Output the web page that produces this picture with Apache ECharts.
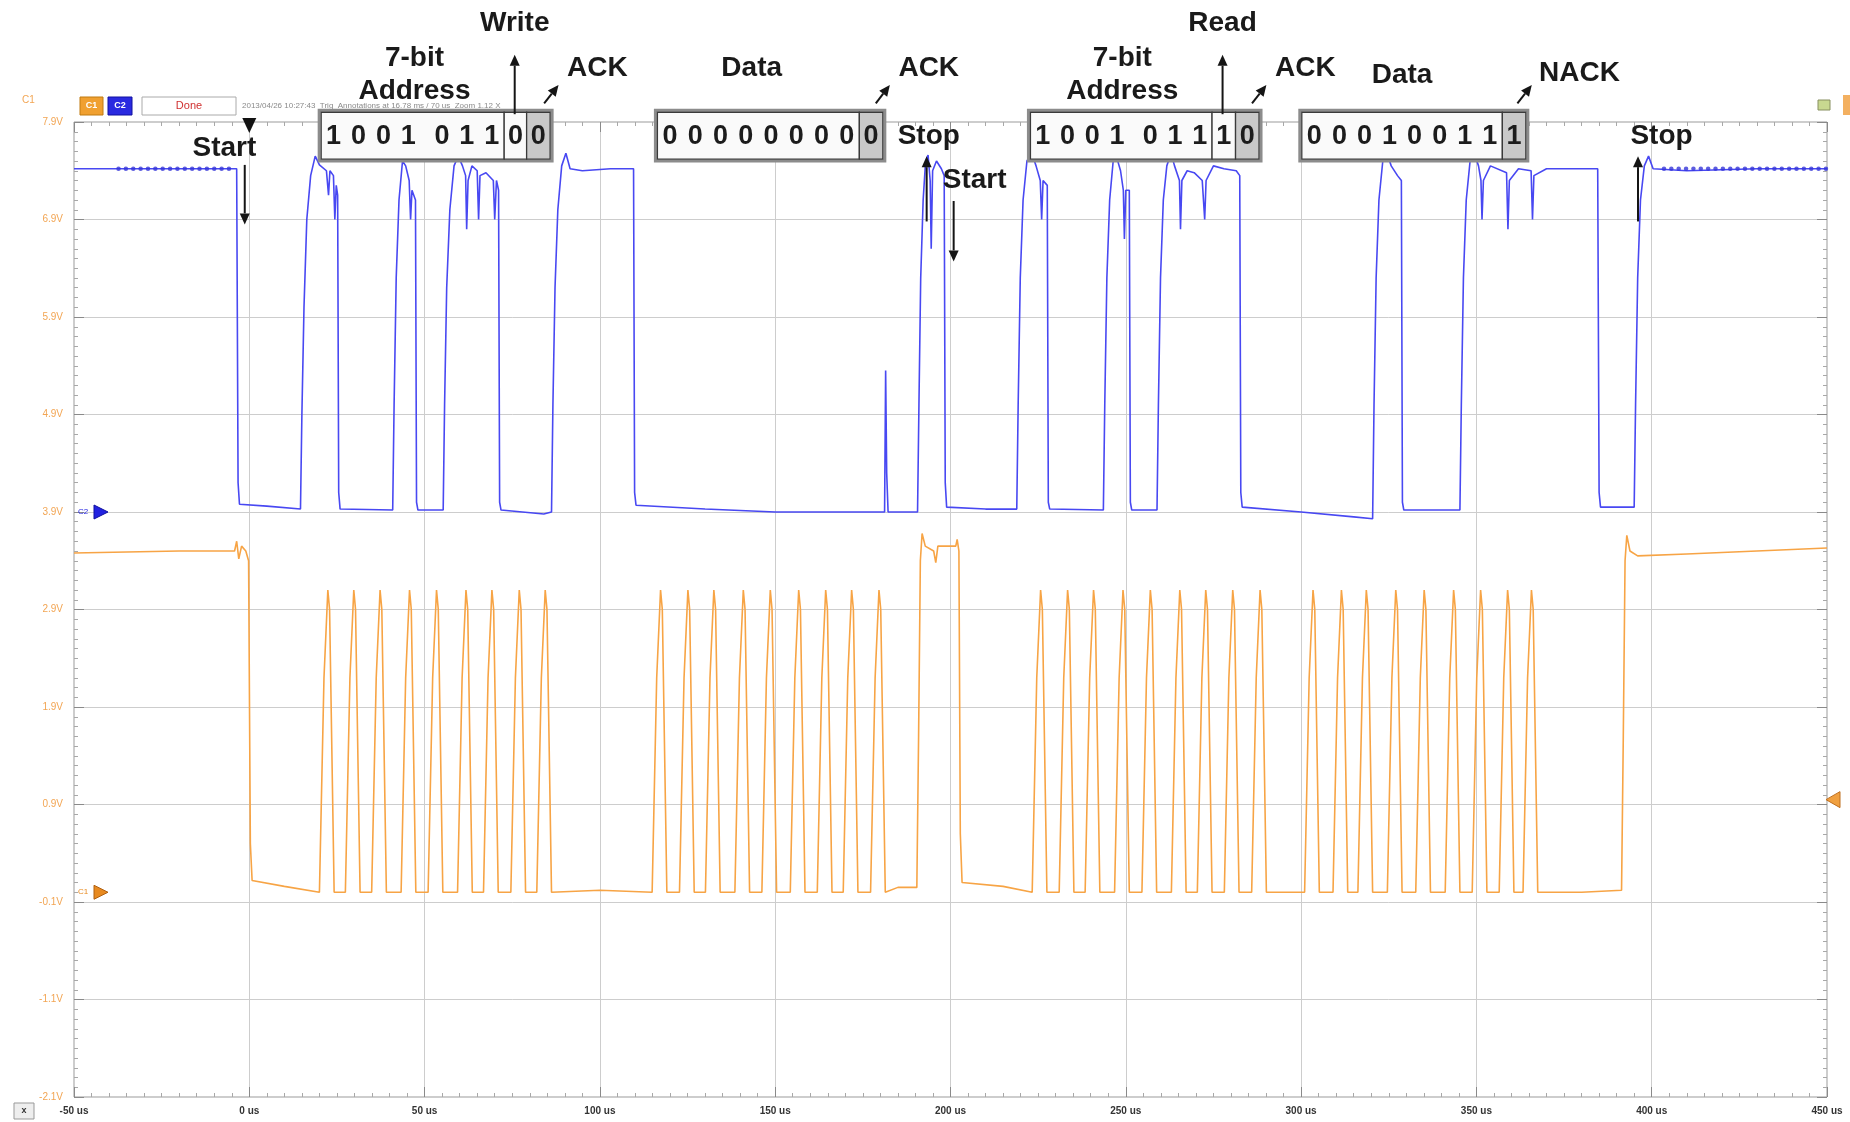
<!DOCTYPE html>
<html><head><meta charset="utf-8">
<script src="https://cdn.jsdelivr.net/npm/echarts@6/dist/echarts.min.js"></script>
<style>html,body{margin:0;padding:0;background:#fff;}#c{width:1850px;height:1122px;}</style>
</head><body><div id="c"></div>
<script>
// ---------- tick labels ----------
const xTickLabels = ['-50 us','0 us','50 us','100 us','150 us','200 us','250 us','300 us','350 us','400 us','450 us'];
const yTickLabels = ['-2.1V','-1.1V','-0.1V','0.9V','1.9V','2.9V','3.9V','4.9V','5.9V','6.9V','7.9V'];

// ---------- SDA (C2, blue) trace: [time us, volts] ----------
const sdaPoints = [
[-50,7.42],[-20,7.42],[-3.6,7.42],[-3.2,4.2],[-2.8,3.98],[5,3.96],[14.6,3.93],
[15.0,4.9],[15.6,6.0],[16.4,6.9],[17.5,7.35],[18.8,7.55],[20.0,7.46],[22.0,7.4],[22.6,7.15],[23.0,7.4],[24.0,7.35],[24.4,6.9],[24.8,7.25],[25.2,7.15],[25.5,4.1],[25.9,3.93],
[40.9,3.92],[41.3,5.0],[41.9,6.3],[42.7,7.1],[43.7,7.5],[44.6,7.45],[45.6,7.3],[46.0,6.9],[46.4,7.2],[47.4,7.1],[47.7,4.0],[48.1,3.92],
[55.3,3.92],[55.7,5.0],[56.3,6.2],[57.2,7.0],[58.4,7.45],[59.6,7.55],[60.8,7.45],[61.7,7.35],[62.0,6.8],[62.4,7.3],[63.5,7.45],[65.0,7.4],[65.4,6.9],[65.8,7.35],[67.5,7.38],[69.6,7.3],[70.0,6.9],[70.5,7.3],[71.1,7.2],[71.4,4.0],[71.8,3.92],
[84.0,3.88],[86.2,3.9],[86.6,5.0],[87.2,6.2],[88.0,7.0],[89.1,7.45],[90.3,7.58],[91.5,7.42],[95,7.4],[103,7.42],[109.6,7.42],[109.9,4.1],[110.3,3.97],
[130,3.93],[150,3.9],[170,3.9],[181.2,3.9],[181.5,5.35],[181.8,4.3],[182.2,3.9],[190.6,3.9],
[191.0,5.0],[191.5,6.3],[192.2,7.1],[192.9,7.5],[193.6,7.56],[194.2,7.3],[194.5,6.6],[194.9,7.4],[196.0,7.5],[197.4,7.42],[198.2,7.35],[198.5,4.2],[198.9,3.95],
[210,3.93],[218.9,3.93],
[219.3,5.0],[219.9,6.3],[220.7,7.1],[221.8,7.5],[223.2,7.58],[224.4,7.45],[225.6,7.3],[226.0,6.9],[226.4,7.3],[227.6,7.25],[227.9,4.0],[228.3,3.93],
[243.6,3.92],[244.0,5.0],[244.6,6.3],[245.4,7.1],[246.4,7.5],[247.3,7.55],[248.5,7.4],[249.3,7.2],[249.6,6.7],[250.0,7.2],[251.0,7.2],[251.3,4.0],[251.7,3.92],
[258.9,3.92],[259.3,5.0],[259.9,6.3],[260.7,7.1],[261.7,7.45],[262.9,7.58],[263.9,7.45],[265.3,7.3],[265.6,6.8],[266.0,7.3],[267.5,7.4],[269.5,7.38],[271.8,7.3],[272.5,6.9],[272.9,7.3],[275,7.45],[278,7.42],[281.5,7.4],[282.5,7.35],[282.8,4.1],[283.2,3.95],
[300,3.9],[315,3.85],[320.4,3.83],
[320.8,5.0],[321.4,6.3],[322.2,7.1],[323.3,7.5],[324.5,7.58],[325.7,7.45],[327.5,7.35],[328.6,7.3],[328.9,4.0],[329.3,3.92],
[345.3,3.92],[345.7,5.0],[346.3,6.3],[347.1,7.1],[348.2,7.5],[349.4,7.58],[350.6,7.45],[351.3,7.3],[351.6,6.9],[352.0,7.3],[354,7.45],[358.6,7.38],[359.0,6.8],[359.4,7.3],[362,7.42],[365.6,7.4],[366.0,6.9],[366.4,7.35],[370,7.42],[384.6,7.42],[385.0,4.1],[385.4,3.95],
[395.0,3.95],[395.4,5.0],[396.0,6.3],[396.8,7.1],[397.9,7.45],[399.1,7.55],[400.4,7.42],[410,7.4],[430,7.42],[450,7.42]
];

// acquisition sample dots on the flat SDA segments
const sdaDotTimes = [-37.3,-35.2,-33.1,-31.0,-28.9,-26.8,-24.7,-22.6,-20.5,-18.4,-16.3,-14.2,-12.1,-10.0,-7.9,-5.8,
 403.5,405.6,407.7,409.8,411.9,414.0,416.1,418.2,420.3,422.4,424.5,426.6,428.7,430.8,432.9,435.0,437.1,439.2,441.3,443.4,445.5,447.6,449.7];
const sdaDotLevel = 7.42;

// ---------- SCL (C1, orange) trace: [time us, volts] ----------
const sclPoints = [
[-50,3.48],[-20,3.5],[-4.2,3.5],[-3.6,3.6],[-3.0,3.42],[-2.2,3.55],[-1.0,3.5],[-0.2,3.4],[0.3,0.5],[0.8,0.12],[10,0.06],[20.0,0.0],
[20.0,0],[21.3,2.2],[22.4,3.1],[22.9,2.9],[24.2,0],
[27.4,0],[28.7,2.2],[29.8,3.1],[30.3,2.9],[31.6,0],
[34.9,0],[36.2,2.2],[37.3,3.1],[37.8,2.9],[39.1,0],
[43.3,0],[44.6,2.2],[45.7,3.1],[46.2,2.9],[47.5,0],
[51.0,0],[52.3,2.2],[53.4,3.1],[53.9,2.9],[55.2,0],
[59.4,0],[60.7,2.2],[61.8,3.1],[62.3,2.9],[63.6,0],
[66.8,0],[68.1,2.2],[69.2,3.1],[69.7,2.9],[71.0,0],
[74.6,0],[75.9,2.2],[77.0,3.1],[77.5,2.9],[78.8,0],
[82.0,0],[83.3,2.2],[84.4,3.1],[84.9,2.9],[86.2,0],
[100,0.02],[114.9,0],
[114.9,0],[116.2,2.2],[117.3,3.1],[117.8,2.9],[119.1,0],
[122.7,0],[124.0,2.2],[125.1,3.1],[125.6,2.9],[126.9,0],
[130.1,0],[131.4,2.2],[132.5,3.1],[133.0,2.9],[134.3,0],
[138.5,0],[139.8,2.2],[140.9,3.1],[141.4,2.9],[142.7,0],
[146.2,0],[147.5,2.2],[148.6,3.1],[149.1,2.9],[150.4,0],
[154.3,0],[155.6,2.2],[156.7,3.1],[157.2,2.9],[158.5,0],
[162.0,0],[163.3,2.2],[164.4,3.1],[164.9,2.9],[166.2,0],
[169.4,0],[170.7,2.2],[171.8,3.1],[172.3,2.9],[173.6,0],
[177.2,0],[178.5,2.2],[179.6,3.1],[180.1,2.9],[181.4,0],
[185,0.05],[190.4,0.05],[190.9,1.6],[191.4,3.4],[191.9,3.68],[192.8,3.55],[195.2,3.5],[195.8,3.38],[196.4,3.55],[200,3.55],[201.5,3.55],[201.9,3.62],[202.4,3.5],[202.8,0.6],[203.3,0.1],[215,0.06],[223.3,0],
[223.3,0],[224.6,2.2],[225.7,3.1],[226.2,2.9],[227.5,0],
[231.0,0],[232.3,2.2],[233.4,3.1],[233.9,2.9],[235.2,0],
[238.4,0],[239.7,2.2],[240.8,3.1],[241.3,2.9],[242.6,0],
[246.8,0],[248.1,2.2],[249.2,3.1],[249.7,2.9],[251.0,0],
[254.6,0],[255.9,2.2],[257.0,3.1],[257.5,2.9],[258.8,0],
[263.0,0],[264.3,2.2],[265.4,3.1],[265.9,2.9],[267.2,0],
[270.4,0],[271.7,2.2],[272.8,3.1],[273.3,2.9],[274.6,0],
[278.1,0],[279.4,2.2],[280.5,3.1],[281.0,2.9],[282.3,0],
[285.9,0],[287.2,2.2],[288.3,3.1],[288.8,2.9],[290.1,0],
[295,0],[301.0,0],
[301.0,0],[302.3,2.2],[303.4,3.1],[303.9,2.9],[305.2,0],
[309.1,0],[310.4,2.2],[311.5,3.1],[312.0,2.9],[313.3,0],
[316.2,0],[317.5,2.2],[318.6,3.1],[319.1,2.9],[320.4,0],
[324.6,0],[325.9,2.2],[327.0,3.1],[327.5,2.9],[328.8,0],
[332.7,0],[334.0,2.2],[335.1,3.1],[335.6,2.9],[336.9,0],
[341.1,0],[342.4,2.2],[343.5,3.1],[344.0,2.9],[345.3,0],
[348.8,0],[350.1,2.2],[351.2,3.1],[351.7,2.9],[353.0,0],
[356.5,0],[357.8,2.2],[358.9,3.1],[359.4,2.9],[360.7,0],
[363.3,0],[364.6,2.2],[365.7,3.1],[366.2,2.9],[367.5,0],
[380,0],[391.4,0.02],[391.9,1.6],[392.4,3.4],[392.9,3.66],[393.8,3.5],[396,3.45],[410,3.47],[430,3.5],[450,3.53]
];

// ---------- annotations (positions in time us / volts) ----------
const annoLabels = ['Start','7-bit','Address','Write','ACK','Data','ACK','Stop','Start','7-bit','Address','Read','ACK','Data','NACK','Stop'];
const annoT = [-7.1, 47.1, 47.1, 75.7, 99.3, 143.3, 193.8, 193.8, 206.9, 249.0, 249.0, 277.6, 301.2, 328.8, 379.4, 402.8];
const annoV = [7.63, 8.55, 8.21, 8.91, 8.45, 8.45, 8.45, 7.75, 7.30, 8.55, 8.21, 8.91, 8.45, 8.38, 8.40, 7.75];

// arrows: tail (t,v) -> head (t,v)
const arrowTail = [[75.7,7.98],[84.1,8.09],[178.7,8.09],[277.6,7.98],[286.0,8.09],[361.7,8.09],[-1.3,7.46],[193.2,6.88],[200.9,7.09],[396.1,6.88]];
const arrowHead = [[75.7,8.59],[88.2,8.28],[182.7,8.28],[277.6,8.59],[290.1,8.28],[365.8,8.28],[-1.3,6.85],[193.2,7.55],[200.9,6.47],[396.1,7.55]];

// decoded bit cells
const cellStart = [20.5, 72.7, 79.1, 116.4, 174.0, 222.8, 274.6, 281.3, 300.2, 357.4];
const cellEnd   = [72.7, 79.1, 85.8, 174.0, 180.7, 274.6, 281.3, 288.0, 357.4, 364.1];
const cellBits  = ['1001 011','0','0','00000000','0','1001 011','1','0','00010011','1'];
const cellShaded = [0,0,1,0,1,0,0,1,0,1];
const frameStart = [20.5, 116.4, 222.8, 300.2];
const frameEnd = [85.8, 180.7, 288.0, 364.1];
const cellBottomV = 7.52, cellTopV = 8.0;

// channel offset markers / trigger
const chanMarkLabels = ['C2','C1'];
const chanMarkV = [3.9, 0.0];
const trigLevelV = 0.95;
const trigTime = 0;

const BLUE = '#4848f2', ORANGE = '#f7a445';
const chart = echarts.init(document.getElementById('c'), null, {renderer:'canvas'});

function xFmt(v){ const i = Math.round((v + 50) / 50); return xTickLabels[i] || ''; }
function yFmt(v){ const i = Math.round(v + 2.1); return yTickLabels[i] || ''; }

const tickCommon = {show:true, inside:true, length:10, lineStyle:{color:'#8a8a8a', width:1}};
const minorCommon = {show:true, splitNumber:10, length:4, lineStyle:{color:'#a8a8a8', width:1}};
const lineOff = {show:false, onZero:false};

const option = {
  animation:false,
  backgroundColor:'#ffffff',
  grid:{left:74, right:23, top:122, bottom:25, show:true, borderColor:'#9a9a9a', borderWidth:1, backgroundColor:'transparent'},
  xAxis:[
    {type:'value', min:-50, max:450, interval:50, position:'bottom',
     axisLine:lineOff, axisTick:tickCommon, minorTick:minorCommon,
     splitLine:{show:true, lineStyle:{color:'#cdcdcd', width:1}},
     axisLabel:{formatter:xFmt, color:'#333', fontSize:10, fontWeight:'bold', margin:9, fontFamily:'Liberation Sans'}},
    {type:'value', min:-50, max:450, interval:50, position:'top',
     axisLine:lineOff, axisTick:tickCommon, minorTick:minorCommon,
     splitLine:{show:false}, axisLabel:{show:false}}
  ],
  yAxis:[
    {type:'value', min:-2.1, max:7.9, interval:1, position:'left',
     axisLine:lineOff, axisTick:tickCommon, minorTick:minorCommon,
     splitLine:{show:true, lineStyle:{color:'#cdcdcd', width:1}},
     axisLabel:{formatter:yFmt, color:'#f2a553', fontSize:10, margin:11, fontFamily:'Liberation Sans'}},
    {type:'value', min:-2.1, max:7.9, interval:1, position:'right',
     axisLine:lineOff, axisTick:tickCommon, minorTick:minorCommon,
     splitLine:{show:false}, axisLabel:{show:false}}
  ],
  graphic:[
    {type:'text', left:22, top:95, style:{text:'C1', fill:'#f2a553', font:'10px "Liberation Sans"'}},
    {type:'rect', shape:{x:80,y:97,width:23,height:18}, style:{fill:'#f0a030', stroke:'#c07a10'}},
    {type:'text', x:91.5, y:106, style:{text:'C1', fill:'#fff', font:'bold 9px "Liberation Sans"', align:'center', verticalAlign:'middle'}},
    {type:'rect', shape:{x:108,y:97,width:24,height:18}, style:{fill:'#2a2ae0', stroke:'#1010a0'}},
    {type:'text', x:120, y:106, style:{text:'C2', fill:'#fff', font:'bold 9px "Liberation Sans"', align:'center', verticalAlign:'middle'}},
    {type:'rect', shape:{x:142,y:97,width:94,height:18}, style:{fill:'#fff', stroke:'#aaaaaa'}},
    {type:'text', x:189, y:106, style:{text:'Done', fill:'#d03030', font:'11px "Liberation Sans"', align:'center', verticalAlign:'middle'}},
    {type:'text', x:242, y:106, style:{text:'2013/04/26 10:27:43  Trig  Annotations at 16.78 ms / 70 us  Zoom 1.12 X', fill:'#8a8a8a', font:'8px "Liberation Sans"', verticalAlign:'middle'}},
    {type:'rect', shape:{x:1843,y:95,width:7,height:20}, style:{fill:'#f3b060'}},
    {type:'rect', shape:{x:1818,y:100,width:12,height:10}, style:{fill:'#c8d890', stroke:'#889060'}},
    {type:'rect', shape:{x:14,y:1103,width:20,height:16}, style:{fill:'#eeeeee', stroke:'#999'}},
    {type:'text', x:24, y:1111, style:{text:'x', fill:'#333', font:'bold 9px "Liberation Sans"', align:'center', verticalAlign:'middle'}}
  ],
  series:[
    {type:'line', name:'SCL', data:sclPoints, showSymbol:false, symbol:'none', z:3,
     lineStyle:{color:ORANGE, width:1.6}, clip:true},
    {type:'line', name:'SDA', data:sdaPoints, showSymbol:false, symbol:'none', z:4,
     lineStyle:{color:BLUE, width:1.6}, clip:true},
    {type:'scatter', name:'SDA samples', data:sdaDotTimes.map(t=>[t, sdaDotLevel]), symbol:'circle', symbolSize:4.5, z:5,
     itemStyle:{color:'#3434d8'}},
    {type:'custom', name:'frames', coordinateSystem:'cartesian2d', clip:false, z:8,
     data: frameStart.map((t,i)=>[t, frameEnd[i], cellBottomV, cellTopV]),
     encode:{x:[0,1], y:[2,3]},
     renderItem(params, api){
       const a = api.coord([api.value(0), api.value(3)]);
       const b = api.coord([api.value(1), api.value(2)]);
       return {type:'rect', shape:{x:a[0]-2, y:a[1]-2, width:b[0]-a[0]+4, height:b[1]-a[1]+4},
               style:{fill:'#ffffff', stroke:'#8c8c8c', lineWidth:3}};
     }},
    {type:'custom', name:'cells', coordinateSystem:'cartesian2d', clip:false, z:9,
     data: cellStart.map((t,i)=>[t, cellEnd[i], cellBottomV, cellTopV]),
     encode:{x:[0,1], y:[2,3]},
     renderItem(params, api){
       const i = params.dataIndex;
       const a = api.coord([api.value(0), api.value(3)]);
       const b = api.coord([api.value(1), api.value(2)]);
       const w = b[0]-a[0], h = b[1]-a[1];
       const children = [{type:'rect', shape:{x:a[0], y:a[1], width:w, height:h},
         style:{fill: cellShaded[i] ? '#c9c9c9' : '#fafafa', stroke:'#3a3a3a', lineWidth:1.3}}];
       const chars = cellBits[i].split('');
       const slots = chars.map(c => c === ' ' ? 0.35 : 1);
       const total = slots.reduce((s,x)=>s+x, 0);
       let acc = 0;
       chars.forEach((c, k) => {
         const sw = w * slots[k] / total;
         if (c !== ' ') {
           children.push({type:'text', x:a[0] + acc + sw/2, y:a[1] + h/2 + 1,
             style:{text:c, fill:'#1c1c1c', font:'bold 27px "Liberation Sans", Arial, sans-serif', align:'center', verticalAlign:'middle'}});
         }
         acc += sw;
       });
       return {type:'group', children};
     }},
    {type:'custom', name:'arrows', coordinateSystem:'cartesian2d', clip:false, z:10,
     data: arrowTail.map((p,i)=>[p[0], p[1], arrowHead[i][0], arrowHead[i][1]]),
     encode:{x:[0,2], y:[1,3]},
     renderItem(params, api){
       const a = api.coord([api.value(0), api.value(1)]);
       const b = api.coord([api.value(2), api.value(3)]);
       const dx = b[0]-a[0], dy = b[1]-a[1], L = Math.hypot(dx, dy) || 1;
       const ux = dx/L, uy = dy/L, hl = 11, hw = 5;
       const base = [b[0]-ux*hl, b[1]-uy*hl];
       return {type:'group', children:[
         {type:'line', shape:{x1:a[0], y1:a[1], x2:base[0], y2:base[1]}, style:{stroke:'#151515', lineWidth:2}},
         {type:'polygon', shape:{points:[[b[0],b[1]],[base[0]-uy*hw, base[1]+ux*hw],[base[0]+uy*hw, base[1]-ux*hw]]}, style:{fill:'#151515'}}
       ]};
     }},
    {type:'custom', name:'labels', coordinateSystem:'cartesian2d', clip:false, z:11,
     data: annoT.map((t,i)=>[t, annoV[i]]),
     encode:{x:0, y:1},
     renderItem(params, api){
       const p = api.coord([api.value(0), api.value(1)]);
       return {type:'text', x:p[0], y:p[1], style:{text:annoLabels[params.dataIndex],
         font:'bold 28px "Liberation Sans", Arial, sans-serif', fill:'#1a1a1a', align:'center', verticalAlign:'middle'}};
     }},
    {type:'custom', name:'trigger', coordinateSystem:'cartesian2d', clip:false, z:11,
     data:[[trigTime, 7.9]], encode:{x:0, y:1},
     renderItem(params, api){
       const p = api.coord([api.value(0), api.value(1)]);
       return {type:'polygon', shape:{points:[[p[0]-7,p[1]-4],[p[0]+7,p[1]-4],[p[0],p[1]+11]]}, style:{fill:'#111'}};
     }},
    {type:'custom', name:'chanMarks', coordinateSystem:'cartesian2d', clip:false, z:11,
     data: chanMarkV.map(v=>[-50, v]), encode:{x:0, y:1},
     renderItem(params, api){
       const p = api.coord([api.value(0), api.value(1)]);
       const col = params.dataIndex === 0 ? '#2222e0' : '#e88a20';
       return {type:'group', children:[
         {type:'text', x:p[0]+4, y:p[1], style:{text:chanMarkLabels[params.dataIndex], fill:col, font:'8px "Liberation Sans"', verticalAlign:'middle'}},
         {type:'polygon', shape:{points:[[p[0]+20,p[1]-7],[p[0]+34,p[1]],[p[0]+20,p[1]+7]]}, style:{fill:col, stroke: params.dataIndex===0?'#1010a0':'#b06010', lineWidth:1}}
       ]};
     }},
    {type:'custom', name:'trigLevel', coordinateSystem:'cartesian2d', clip:false, z:11,
     data:[[450, trigLevelV]], encode:{x:0, y:1},
     renderItem(params, api){
       const p = api.coord([api.value(0), api.value(1)]);
       return {type:'polygon', shape:{points:[[p[0]+13,p[1]-8],[p[0]-1,p[1]],[p[0]+13,p[1]+8]]}, style:{fill:'#f0a040', stroke:'#c07020', lineWidth:1}};
     }}
  ]
};
chart.setOption(option);
</script>
</body></html>
